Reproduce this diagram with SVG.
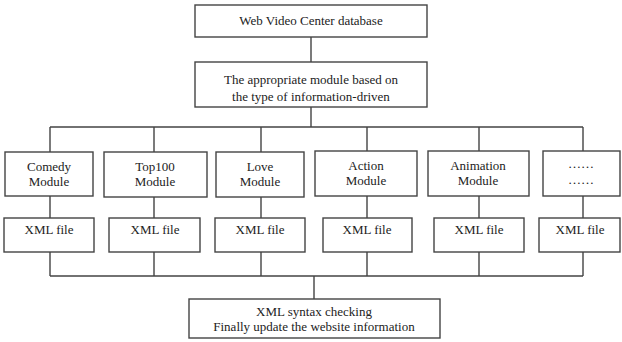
<svg xmlns="http://www.w3.org/2000/svg" width="622" height="342" viewBox="0 0 622 342">
<style>
.b{fill:#fff;stroke:#444;stroke-width:1.4}
.t{font-family:"Liberation Serif","Times New Roman",serif;font-size:13px;fill:#222;text-anchor:middle}
.c{fill:none;stroke:#444;stroke-width:1.4}
</style>
<rect width="622" height="342" fill="#fff"/>
<g id="connectors">
<path class="c" d="M311 37V62M311 107V127M50 127H583M50 127V152M154 127V152M261 127V152M367 127V152M479 127V152M583 127V152"/>
<path class="c" d="M50 196V218M154 197V218M261 197V218M367 196V218M479 196V218M583 196V218"/>
<path class="c" d="M50 252V276M154 252V276M261 252V276M367 252V276M479 252V276M583 252V276M50 276H583M314 276V299"/>
</g>
<g id="db"><rect class="b" x="195" y="5" width="232" height="32"/><text class="t" x="311" y="25">Web Video Center database</text></g>
<g id="selector"><rect class="b" x="195" y="62" width="232" height="45"/><text class="t" x="311" y="84">The appropriate module based on</text><text class="t" x="311" y="101">the type of information-driven</text></g>
<g id="comedy"><rect class="b" x="5" y="152" width="88" height="44"/><text class="t" x="49" y="171">Comedy</text><text class="t" x="49" y="186">Module</text></g>
<g id="top100"><rect class="b" x="104" y="152" width="103" height="45"/><text class="t" x="155" y="171">Top100</text><text class="t" x="155" y="186">Module</text></g>
<g id="love"><rect class="b" x="216" y="152" width="88" height="45"/><text class="t" x="260" y="171">Love</text><text class="t" x="260" y="186">Module</text></g>
<g id="action"><rect class="b" x="315" y="151" width="102" height="45"/><text class="t" x="366" y="170">Action</text><text class="t" x="366" y="185">Module</text></g>
<g id="animation"><rect class="b" x="428" y="151" width="101" height="45"/><text class="t" x="478" y="170">Animation</text><text class="t" x="478" y="185">Module</text></g>
<g id="more"><rect class="b" x="543" y="151" width="77" height="45"/><text class="t" x="581" y="168">……</text><text class="t" x="581" y="184">……</text></g>
<g id="xml1"><rect class="b" x="4" y="218" width="90" height="34"/><text class="t" x="49" y="234">XML file</text></g>
<g id="xml2"><rect class="b" x="109" y="218" width="91" height="34"/><text class="t" x="155" y="234">XML file</text></g>
<g id="xml3"><rect class="b" x="215" y="218" width="90" height="34"/><text class="t" x="260" y="234">XML file</text></g>
<g id="xml4"><rect class="b" x="323" y="218" width="89" height="34"/><text class="t" x="367" y="234">XML file</text></g>
<g id="xml5"><rect class="b" x="434" y="218" width="90" height="34"/><text class="t" x="479" y="234">XML file</text></g>
<g id="xml6"><rect class="b" x="539" y="218" width="81" height="34"/><text class="t" x="580" y="234">XML file</text></g>
<g id="check"><rect class="b" x="189" y="299" width="251" height="39"/><text class="t" x="314" y="316">XML syntax checking</text><text class="t" x="314" y="331">Finally update the website information</text></g>
</svg>
